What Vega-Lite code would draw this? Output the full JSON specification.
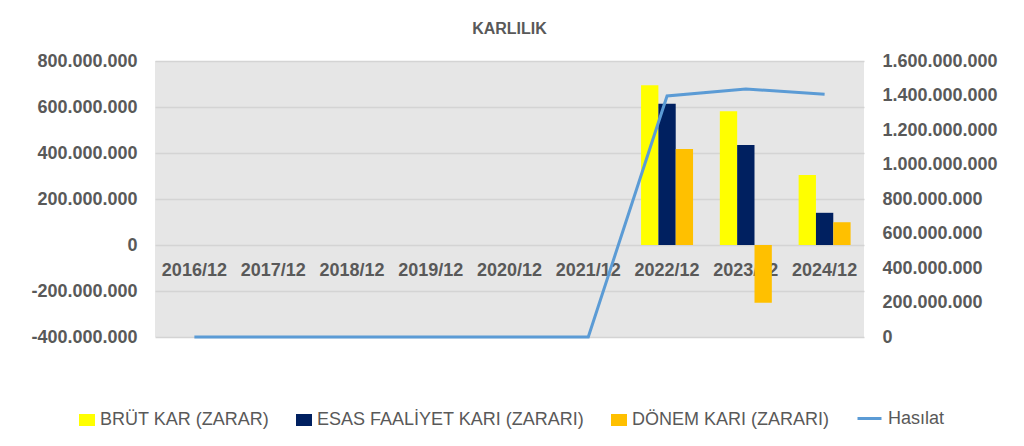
{
  "$schema": "https://vega.github.io/schema/vega-lite/v6.json",
  "width": 709,
  "height": 276,
  "autosize": {"type": "none"},
  "padding": {"left": 155, "top": 61, "right": 160, "bottom": 109},
  "background": "white",
  "title": {
    "text": "KARLILIK",
    "font": "Liberation Sans",
    "fontSize": 16,
    "fontWeight": "bold",
    "color": "#595959",
    "anchor": "middle",
    "offset": 15
  },
  "config": {
    "view": {"fill": "#e6e6e6", "stroke": null},
    "axis": {
      "labelFont": "Liberation Sans",
      "labelFontSize": 18,
      "labelFontWeight": "bold",
      "labelColor": "#595959",
      "domain": false,
      "ticks": false,
      "title": null
    },
    "legend": {
      "labelFont": "Liberation Sans",
      "labelFontSize": 18,
      "labelColor": "#595959",
      "labelLimit": 400,
      "title": null,
      "direction": "horizontal",
      "orient": "none"
    }
  },
  "datasets": {
    "kalemler": [
      {"donem": "2022/12", "kalem": "BRÜT KAR (ZARAR)", "deger": 695000000},
      {"donem": "2022/12", "kalem": "ESAS FAALİYET KARI (ZARARI)", "deger": 614000000},
      {"donem": "2022/12", "kalem": "DÖNEM KARI (ZARARI)", "deger": 417000000},
      {"donem": "2023/12", "kalem": "BRÜT KAR (ZARAR)", "deger": 581000000},
      {"donem": "2023/12", "kalem": "ESAS FAALİYET KARI (ZARARI)", "deger": 435000000},
      {"donem": "2023/12", "kalem": "DÖNEM KARI (ZARARI)", "deger": -251000000},
      {"donem": "2024/12", "kalem": "BRÜT KAR (ZARAR)", "deger": 304000000},
      {"donem": "2024/12", "kalem": "ESAS FAALİYET KARI (ZARARI)", "deger": 140000000},
      {"donem": "2024/12", "kalem": "DÖNEM KARI (ZARARI)", "deger": 99000000}
    ],
    "hasilat": [
      {"donem": "2016/12", "hasilat": 0},
      {"donem": "2017/12", "hasilat": 0},
      {"donem": "2018/12", "hasilat": 0},
      {"donem": "2019/12", "hasilat": 0},
      {"donem": "2020/12", "hasilat": 0},
      {"donem": "2021/12", "hasilat": 0},
      {"donem": "2022/12", "hasilat": 1397000000},
      {"donem": "2023/12", "hasilat": 1438000000},
      {"donem": "2024/12", "hasilat": 1407000000}
    ]
  },
  "layer": [
    {
      "data": {"name": "kalemler"},
      "mark": {"type": "bar"},
      "encoding": {
        "x": {
          "field": "donem",
          "type": "nominal",
          "scale": {
            "domain": ["2016/12", "2017/12", "2018/12", "2019/12", "2020/12", "2021/12", "2022/12", "2023/12", "2024/12"],
            "paddingInner": 0.34,
            "paddingOuter": 0.17
          },
          "axis": {"labelAngle": 0, "offset": -92, "labelPadding": 16, "grid": false}
        },
        "xOffset": {
          "field": "kalem",
          "type": "nominal",
          "sort": ["BRÜT KAR (ZARAR)", "ESAS FAALİYET KARI (ZARARI)", "DÖNEM KARI (ZARARI)"],
          "scale": {"paddingInner": 0, "paddingOuter": 0}
        },
        "y": {
          "field": "deger",
          "type": "quantitative",
          "scale": {"domain": [-400000000, 800000000], "nice": false},
          "axis": {
            "orient": "left",
            "values": [-400000000, -200000000, 0, 200000000, 400000000, 600000000, 800000000],
            "labelExpr": "replace(replace(format(datum.value, ','), /,/g, '.'), '−', '-')",
            "labelPadding": 18,
            "grid": true,
            "gridColor": "#d4d4d4",
            "gridWidth": 1.5
          }
        },
        "fill": {
          "field": "kalem",
          "type": "nominal",
          "scale": {
            "domain": ["BRÜT KAR (ZARAR)", "ESAS FAALİYET KARI (ZARARI)", "DÖNEM KARI (ZARARI)"],
            "range": ["#ffff00", "#002060", "#ffc000"]
          },
          "legend": {
            "legendX": -77,
            "legendY": 350,
            "symbolType": "M-1,-0.75H1V0.75H-1Z",
            "symbolSize": 256,
            "symbolStrokeWidth": 0,
            "labelOffset": 4,
            "columnPadding": 25
          }
        }
      }
    },
    {
      "data": {"name": "hasilat"},
      "mark": {"type": "line", "strokeWidth": 3},
      "encoding": {
        "x": {"field": "donem", "type": "nominal"},
        "y": {
          "field": "hasilat",
          "type": "quantitative",
          "scale": {"domain": [0, 1600000000], "nice": false},
          "axis": {
            "orient": "right",
            "values": [0, 200000000, 400000000, 600000000, 800000000, 1000000000, 1200000000, 1400000000, 1600000000],
            "labelExpr": "replace(format(datum.value, ','), /,/g, '.')",
            "labelPadding": 18,
            "grid": false
          }
        },
        "stroke": {
          "datum": "Hasılat",
          "type": "nominal",
          "scale": {"range": ["#5b9bd5"]},
          "legend": {
            "legendX": 701,
            "legendY": 344,
            "symbolType": "stroke",
            "symbolSize": 576,
            "symbolStrokeWidth": 3,
            "labelOffset": 5
          }
        }
      }
    }
  ],
  "resolve": {"scale": {"y": "independent"}}
}
